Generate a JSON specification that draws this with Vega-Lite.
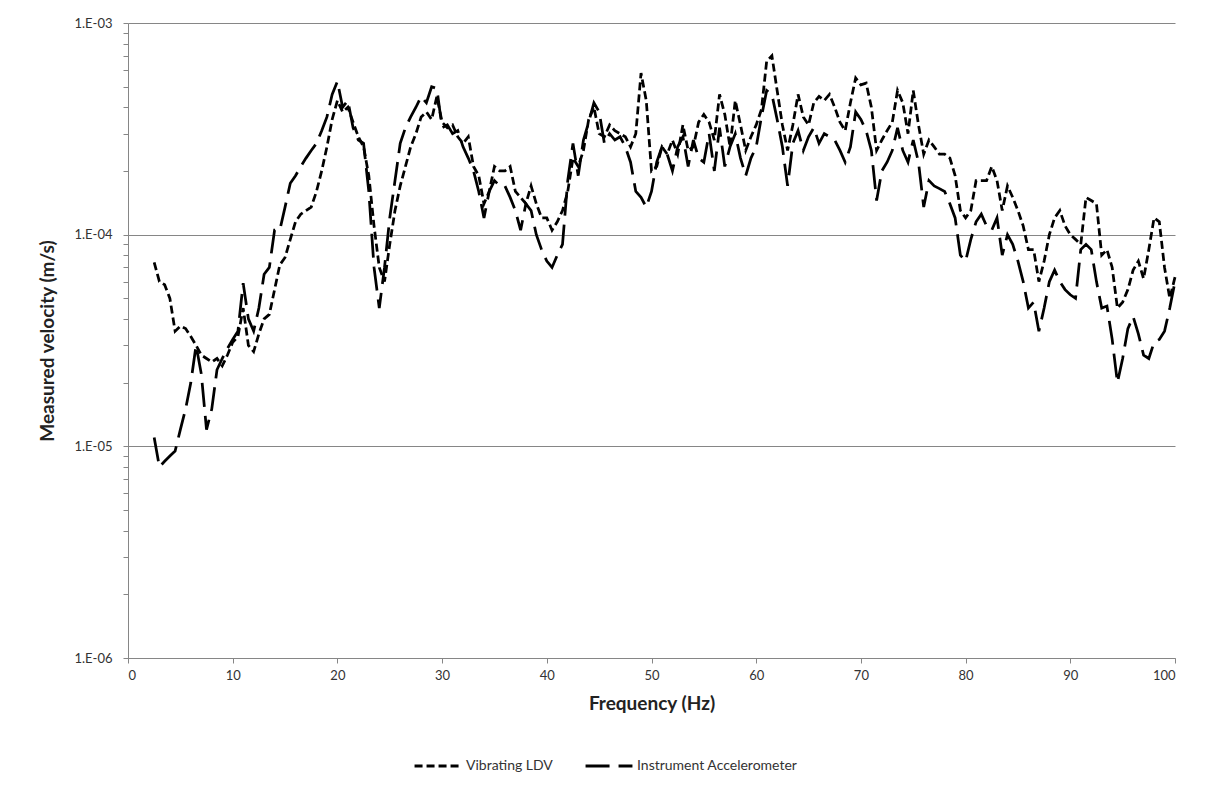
{
  "$schema": "https://vega.github.io/schema/vega-lite/v6.json",
  "width": 1047,
  "height": 635,
  "autosize": {"type": "none"},
  "padding": {"left": 128, "top": 23, "right": 34, "bottom": 129},
  "background": "white",
  "config": {
    "view": {"stroke": null},
    "font": "Lato",
    "axis": {"labelFont": "Lato", "titleFont": "Lato"}
  },
  "datasets": {
    "ldv": [
      [2.5,7.4e-5],[3,6.0e-5],[3.5,5.8e-5],[4,5.0e-5],[4.5,3.5e-5],[5,3.7e-5],[5.5,3.6e-5],[6,3.3e-5],[6.5,3.0e-5],[7,2.7e-5],
      [7.5,2.6e-5],[8,2.5e-5],[8.5,2.6e-5],[9,2.4e-5],[9.5,2.7e-5],[10,3.1e-5],[10.5,3.3e-5],[11,4.5e-5],[11.5,3.0e-5],[12,2.8e-5],
      [12.5,3.4e-5],[13,4.0e-5],[13.5,4.2e-5],[14,5.5e-5],[14.5,7.2e-5],[15,7.8e-5],[15.5,9.5e-5],[16,1.15e-4],[16.5,1.25e-4],[17,1.3e-4],
      [17.5,1.35e-4],[18,1.6e-4],[18.5,2.0e-4],[19,2.6e-4],[19.5,3.5e-4],[20,4.3e-4],[20.5,3.8e-4],[21,4.0e-4],[21.5,3.4e-4],[22,2.9e-4],
      [22.5,2.6e-4],[23,1.9e-4],[23.5,1.1e-4],[24,7.0e-5],[24.5,6.0e-5],[25,9.0e-5],[25.5,1.3e-4],[26,1.7e-4],[26.5,2.1e-4],[27,2.6e-4],
      [27.5,3.0e-4],[28,3.6e-4],[28.5,3.8e-4],[29,3.5e-4],[29.5,4.5e-4],[30,3.4e-4],[30.5,3.2e-4],[31,3.3e-4],[31.5,2.9e-4],[32,2.7e-4],
      [32.5,2.9e-4],[33,2.1e-4],[33.5,1.9e-4],[34,1.4e-4],[34.5,1.6e-4],[35,2.1e-4],[35.5,2.0e-4],[36,2.0e-4],[36.5,2.1e-4],[37,1.6e-4],
      [37.5,1.5e-4],[38,1.4e-4],[38.5,1.7e-4],[39,1.4e-4],[39.5,1.2e-4],[40,1.2e-4],[40.5,1.05e-4],[41,1.15e-4],[41.5,1.3e-4],[42,1.6e-4],
      [42.5,2.3e-4],[43,2.1e-4],[43.5,2.5e-4],[44,3.5e-4],[44.5,4.0e-4],[45,3.0e-4],[45.5,2.9e-4],[46,3.3e-4],[46.5,3.1e-4],[47,3.0e-4],
      [47.5,2.9e-4],[48,2.6e-4],[48.5,3.0e-4],[49,5.8e-4],[49.5,4.3e-4],[50,2.0e-4],[50.5,2.1e-4],[51,2.6e-4],[51.5,2.4e-4],[52,2.8e-4],
      [52.5,2.4e-4],[53,3.3e-4],[53.5,2.5e-4],[54,2.6e-4],[54.5,3.4e-4],[55,3.7e-4],[55.5,3.4e-4],[56,2.8e-4],[56.5,4.6e-4],[57,3.7e-4],
      [57.5,2.6e-4],[58,4.3e-4],[58.5,3.3e-4],[59,2.5e-4],[59.5,2.9e-4],[60,3.3e-4],[60.5,3.9e-4],[61,6.6e-4],[61.5,7.0e-4],[62,4.8e-4],
      [62.5,3.3e-4],[63,2.5e-4],[63.5,3.3e-4],[64,4.6e-4],[64.5,3.6e-4],[65,3.3e-4],[65.5,4.2e-4],[66,4.5e-4],[66.5,4.3e-4],[67,4.6e-4],
      [67.5,4.0e-4],[68,3.4e-4],[68.5,3.1e-4],[69,4.2e-4],[69.5,5.5e-4],[70,5.1e-4],[70.5,5.2e-4],[71,4.0e-4],[71.5,2.5e-4],[72,2.8e-4],
      [72.5,3.1e-4],[73,3.4e-4],[73.5,4.8e-4],[74,4.2e-4],[74.5,3.0e-4],[75,4.8e-4],[75.5,3.3e-4],[76,2.4e-4],[76.5,2.8e-4],[77,2.6e-4],
      [77.5,2.4e-4],[78,2.4e-4],[78.5,2.3e-4],[79,1.9e-4],[79.5,1.3e-4],[80,1.2e-4],[80.5,1.3e-4],[81,1.8e-4],[81.5,1.8e-4],[82,1.8e-4],
      [82.5,2.1e-4],[83,1.8e-4],[83.5,1.3e-4],[84,1.7e-4],[84.5,1.5e-4],[85,1.3e-4],[85.5,1.1e-4],[86,8.5e-5],[86.5,8.5e-5],[87,6.0e-5],
      [87.5,7.5e-5],[88,1.0e-4],[88.5,1.2e-4],[89,1.3e-4],[89.5,1.1e-4],[90,1.0e-4],[90.5,9.5e-5],[91,9.0e-5],[91.5,1.5e-4],[92,1.45e-4],
      [92.5,1.4e-4],[93,8.0e-5],[93.5,8.5e-5],[94,7.0e-5],[94.5,4.5e-5],[95,4.8e-5],[95.5,5.5e-5],[96,6.8e-5],[96.5,7.5e-5],[97,6.2e-5],
      [97.5,8.5e-5],[98,1.2e-4],[98.5,1.15e-4],[99,7.0e-5],[99.5,5.0e-5],[100,6.3e-5]
    ],
    "acc": [
      [2.5,1.1e-5],[3,8.0e-6],[3.5,8.5e-6],[4,9.0e-6],[4.5,9.5e-6],[5,1.2e-5],[5.5,1.5e-5],[6,2.0e-5],[6.5,3.0e-5],[7,2.2e-5],
      [7.5,1.2e-5],[8,1.5e-5],[8.5,2.3e-5],[9,2.6e-5],[9.5,2.9e-5],[10,3.2e-5],[10.5,3.5e-5],[11,5.9e-5],[11.5,4.0e-5],[12,3.5e-5],
      [12.5,4.5e-5],[13,6.5e-5],[13.5,7.0e-5],[14,1.05e-4],[14.5,1.05e-4],[15,1.35e-4],[15.5,1.75e-4],[16,1.9e-4],[16.5,2.1e-4],[17,2.3e-4],
      [17.5,2.5e-4],[18,2.7e-4],[18.5,3.1e-4],[19,3.6e-4],[19.5,4.6e-4],[20,5.3e-4],[20.5,4.0e-4],[21,4.3e-4],[21.5,3.2e-4],[22,2.8e-4],
      [22.5,2.7e-4],[23,1.6e-4],[23.5,7.0e-5],[24,4.5e-5],[24.5,7.0e-5],[25,1.2e-4],[25.5,1.8e-4],[26,2.7e-4],[26.5,3.2e-4],[27,3.6e-4],
      [27.5,4.0e-4],[28,4.5e-4],[28.5,4.2e-4],[29,5.0e-4],[29.5,4.9e-4],[30,3.2e-4],[30.5,3.3e-4],[31,3.0e-4],[31.5,3.1e-4],[32,2.6e-4],
      [32.5,2.3e-4],[33,2.0e-4],[33.5,1.6e-4],[34,1.2e-4],[34.5,1.6e-4],[35,1.8e-4],[35.5,1.7e-4],[36,1.7e-4],[36.5,1.5e-4],[37,1.3e-4],
      [37.5,1.05e-4],[38,1.4e-4],[38.5,1.3e-4],[39,1.0e-4],[39.5,8.5e-5],[40,7.5e-5],[40.5,7.0e-5],[41,8.0e-5],[41.5,9.0e-5],[42,1.8e-4],
      [42.5,2.7e-4],[43,1.9e-4],[43.5,2.8e-4],[44,3.4e-4],[44.5,4.2e-4],[45,3.8e-4],[45.5,2.7e-4],[46,3.0e-4],[46.5,2.8e-4],[47,2.9e-4],
      [47.5,2.6e-4],[48,2.2e-4],[48.5,1.6e-4],[49,1.5e-4],[49.5,1.35e-4],[50,1.6e-4],[50.5,2.2e-4],[51,2.6e-4],[51.5,2.4e-4],[52,2.0e-4],
      [52.5,2.6e-4],[53,2.9e-4],[53.5,2.1e-4],[54,2.8e-4],[54.5,2.3e-4],[55,2.2e-4],[55.5,3.0e-4],[56,2.0e-4],[56.5,3.2e-4],[57,2.1e-4],
      [57.5,2.6e-4],[58,3.0e-4],[58.5,2.3e-4],[59,1.9e-4],[59.5,2.3e-4],[60,2.6e-4],[60.5,3.6e-4],[61,4.8e-4],[61.5,4.6e-4],[62,3.5e-4],
      [62.5,2.6e-4],[63,1.7e-4],[63.5,2.7e-4],[64,3.1e-4],[64.5,2.5e-4],[65,2.9e-4],[65.5,3.2e-4],[66,2.7e-4],[66.5,3.0e-4],[67,2.9e-4],
      [67.5,2.8e-4],[68,2.5e-4],[68.5,2.2e-4],[69,2.6e-4],[69.5,3.8e-4],[70,3.5e-4],[70.5,3.1e-4],[71,2.5e-4],[71.5,1.45e-4],[72,2.0e-4],
      [72.5,2.2e-4],[73,2.5e-4],[73.5,3.2e-4],[74,2.5e-4],[74.5,2.2e-4],[75,2.8e-4],[75.5,2.2e-4],[76,1.35e-4],[76.5,1.8e-4],[77,1.7e-4],
      [77.5,1.65e-4],[78,1.6e-4],[78.5,1.4e-4],[79,1.2e-4],[79.5,8.0e-5],[80,7.5e-5],[80.5,9.5e-5],[81,1.15e-4],[81.5,1.25e-4],[82,1.1e-4],
      [82.5,1.05e-4],[83,1.2e-4],[83.5,8.0e-5],[84,1.0e-4],[84.5,9.0e-5],[85,7.5e-5],[85.5,6.0e-5],[86,4.5e-5],[86.5,4.8e-5],[87,3.5e-5],
      [87.5,4.5e-5],[88,6.0e-5],[88.5,6.8e-5],[89,6.0e-5],[89.5,5.5e-5],[90,5.2e-5],[90.5,5.0e-5],[91,8.5e-5],[91.5,9.0e-5],[92,8.5e-5],
      [92.5,6.0e-5],[93,4.5e-5],[93.5,4.6e-5],[94,3.2e-5],[94.5,2.0e-5],[95,2.6e-5],[95.5,3.6e-5],[96,4.1e-5],[96.5,3.4e-5],[97,2.7e-5],
      [97.5,2.6e-5],[98,3.1e-5],[98.5,3.2e-5],[99,3.5e-5],[99.5,4.5e-5],[100,6.0e-5]
    ]
  },
  "layer": [
    {
      "data": {"name": "ldv"},
      "transform": [
        {"calculate": "datum[0]", "as": "Frequency"},
        {"calculate": "datum[1]", "as": "Velocity"},
        {"calculate": "'Vibrating LDV'", "as": "Series"}
      ],
      "mark": {"type": "line", "color": "black", "strokeWidth": 2.75},
      "encoding": {
        "x": {"field": "Frequency", "type": "quantitative"},
        "y": {"field": "Velocity", "type": "quantitative"},
        "strokeDash": {"field": "Series", "type": "nominal"}
      }
    },
    {
      "data": {"name": "acc"},
      "transform": [
        {"calculate": "datum[0]", "as": "Frequency"},
        {"calculate": "datum[1]", "as": "Velocity"},
        {"calculate": "'Instrument Accelerometer'", "as": "Series"}
      ],
      "mark": {"type": "line", "color": "black", "strokeWidth": 2.75},
      "encoding": {
        "x": {"field": "Frequency", "type": "quantitative"},
        "y": {"field": "Velocity", "type": "quantitative"},
        "strokeDash": {"field": "Series", "type": "nominal"}
      }
    }
  ],
  "resolve": {"scale": {"strokeDash": "shared"}},
  "encoding": {
    "x": {
      "field": "Frequency",
      "type": "quantitative",
      "scale": {"domain": [0, 100], "nice": false, "zero": false},
      "axis": {
        "title": "Frequency (Hz)",
        "values": [0, 10, 20, 30, 40, 50, 60, 70, 80, 90, 100],
        "grid": false,
        "domainColor": "#868686",
        "tickColor": "#868686",
        "tickSize": 5,
        "labelPadding": 6,
        "labelFontSize": 13,
        "labelColor": "#333333",
        "titleFontSize": 19,
        "titleFontWeight": "bold",
        "titleColor": "#222222",
        "titlePadding": 12
      }
    },
    "y": {
      "field": "Velocity",
      "type": "quantitative",
      "scale": {"type": "log", "domain": [1e-6, 1e-3], "nice": false},
      "axis": {
        "title": "Measured velocity (m/s)",
        "values": [1e-6,2e-6,3e-6,4e-6,5e-6,6e-6,7e-6,8e-6,9e-6,1e-5,2e-5,3e-5,4e-5,5e-5,6e-5,7e-5,8e-5,9e-5,1e-4,2e-4,3e-4,4e-4,5e-4,6e-4,7e-4,8e-4,9e-4,1e-3],
        "labelExpr": "abs(log(datum.value)/LN10 - round(log(datum.value)/LN10)) < 0.01 ? '1.E-0' + (-round(log(datum.value)/LN10)) : ''",
        "labelOverlap": false,
        "grid": true,
        "gridColor": "#868686",
        "gridWidth": 1,
        "gridOpacity": {"condition": {"test": "abs(log(datum.value)/LN10 - round(log(datum.value)/LN10)) < 0.01", "value": 1}, "value": 0},
        "domainColor": "#868686",
        "tickColor": "#868686",
        "tickSize": 5,
        "labelPadding": 11,
        "labelFontSize": 13,
        "labelColor": "#333333",
        "titleFontSize": 19,
        "titleFontWeight": "bold",
        "titleColor": "#222222",
        "titlePadding": 16
      }
    },
    "strokeDash": {
      "field": "Series",
      "type": "nominal",
      "scale": {
        "domain": ["Vibrating LDV", "Instrument Accelerometer"],
        "range": [[8, 4], [24, 9]]
      },
      "legend": {
        "title": null,
        "orient": "none",
        "direction": "horizontal",
        "legendX": 285,
        "legendY": 718,
        "symbolType": "stroke",
        "symbolSize": 2200,
        "symbolStrokeWidth": 3,
        "symbolStrokeColor": "black",
        "labelFontSize": 14,
        "labelLimit": 400,
        "labelColor": "#333333",
        "columnPadding": 26,
        "labelOffset": 3
      }
    }
  }
}
